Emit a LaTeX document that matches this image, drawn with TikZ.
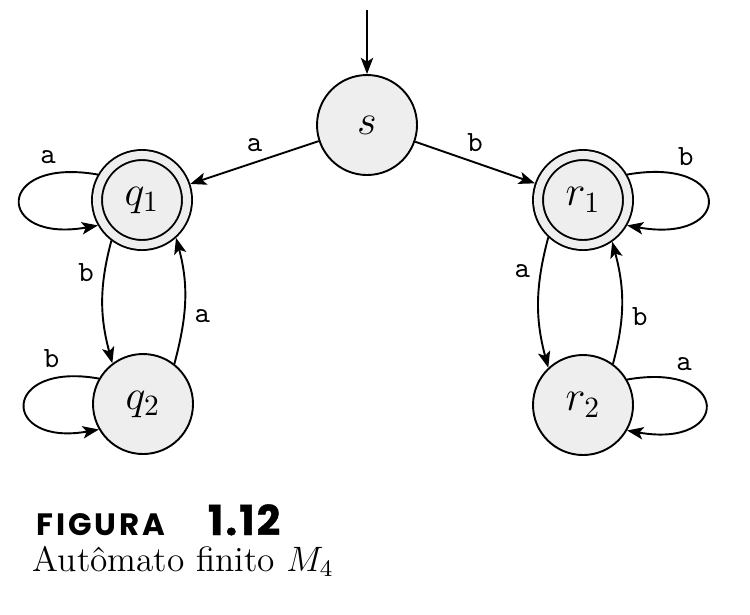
\documentclass[tikz,border=0pt]{standalone}
\usepackage{fontspec}
\usepackage{amsmath}
\usetikzlibrary{arrows.meta}
\newfontfamily\figfont{Poppins}
\definecolor{statefill}{HTML}{EEEEEE}
\tikzset{%
    st/.style={circle,draw=black,fill=statefill,line width=0.65pt,inner sep=0pt,minimum size=34pt,font=\Large},
    acc/.style={st,minimum size=30.6pt,double=statefill,double distance=2.75pt,outer sep=2pt},
    lbl/.style={font=\ttfamily},
    captxt/.style={anchor=base west,inner sep=0pt}
}

\begin{document}
\begin{tikzpicture}[x=0.34pt,y=-0.34pt,line width=0.65pt,>={Stealth[length=5.5pt,width=4.2pt,inset=1.3pt]}]
            \useasboundingbox (0,0) rectangle (750,614);
            \node[st] (s) at (367,125) {$s$};
            \node[acc] (q1) at (142,200) {$q_1$};
            \node[st] (q2) at (143,404) {$q_2$};
            \node[acc] (r1) at (583,200) {$r_1$};
            \node[st] (r2) at (583,405) {$r_2$};
            \coordinate (start) at (367,10);

            \draw[->] (start) -- (s);
            \draw[->] (s) -- node[lbl,above]{a} (q1);
            \draw[->] (s) -- node[lbl,above]{b} (r1);
            % loops
            \draw[->] (q1.150) .. controls +(170:35.8pt) and +(190:35.8pt) .. node[lbl,above,pos=0.2]{a} (q1.210);
            \draw[->] (q2.150) .. controls +(170:34pt) and +(190:34pt) .. node[lbl,above,pos=0.2]{b} (q2.210);
            \draw[->] (r1.30) .. controls +(10:37pt) and +(-10:37pt) .. node[lbl,above,pos=0.24]{b} (r1.-30);
            \draw[->] (r2.30) .. controls +(10:36pt) and +(-10:36pt) .. node[lbl,above,pos=0.24]{a} (r2.-30);
            % between q1,q2 and r1,r2
            \draw[->] (q1.233) to[out=255,in=105] node[lbl,left,pos=0.25]{b} (q2.127);
            \draw[->] (q2.52) to[out=75,in=285] node[lbl,right,pos=0.37]{a} (q1.312);
            \draw[->] (r1.227) to[out=255,in=105] node[lbl,left,pos=0.25]{a} (r2.133);
            \draw[->] (r2.54) to[out=75,in=285] node[lbl,right,pos=0.38]{b} (r1.305);

            \node[captxt,font=\figfont\bfseries\fontsize{10.5}{12}\selectfont] (fig) at (36,535) {\addfontfeature{LetterSpace=9}FIGURA};
            \node[captxt,font=\figfont\bfseries\fontsize{14}{15}\selectfont] (num) at (207,535) {\addfontfeature{LetterSpace=5,FakeBold=1}1.12};
            \node[captxt,font=\fontsize{12}{13}\selectfont] (caption) at (32,571) {Autômato finito $M_4$};
        \end{tikzpicture}
\end{document}
